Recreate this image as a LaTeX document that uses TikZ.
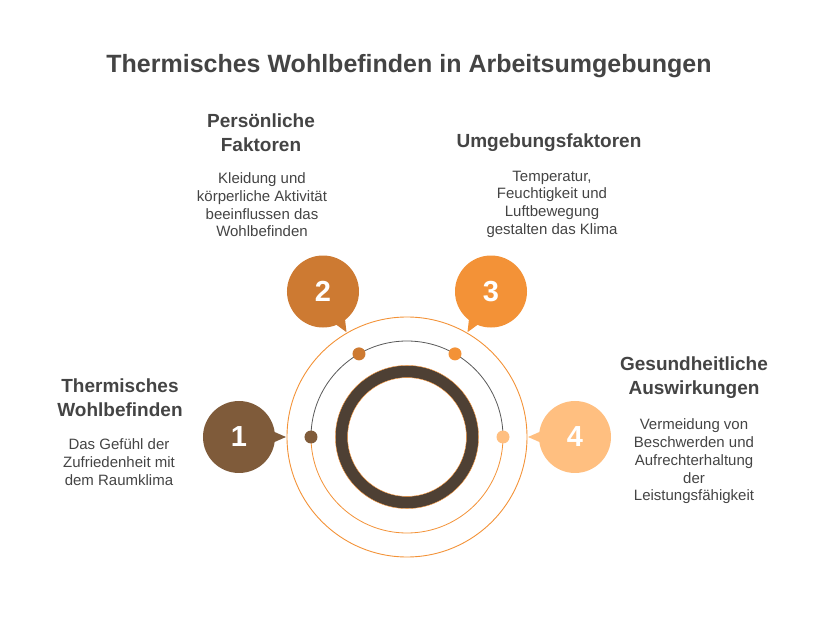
\documentclass[tikz,border=0pt]{standalone}
\usepackage{fontspec}
\setmainfont{Liberation Sans}
\usepackage{tikz}

\definecolor{txt}{HTML}{444444}
\definecolor{ringdark}{HTML}{4E4034}
\definecolor{cone}{HTML}{7F5B3A}
\definecolor{ctwo}{HTML}{CD7A32}
\definecolor{cthree}{HTML}{F39237}
\definecolor{cfour}{HTML}{FFBF80}
\definecolor{lineorange}{HTML}{F39237}

\begin{document}
\begin{tikzpicture}[x=1pt,y=1pt,
  heading/.style={font=\fontsize{19}{24}\selectfont\bfseries, text=txt, align=center, inner sep=0pt},
  desc/.style={font=\fontsize{15}{17.7}\selectfont, text=txt, align=center, inner sep=0pt},
  num/.style={font=\fontsize{29}{29}\selectfont\bfseries, text=white, inner sep=0pt},
  dot/.style={circle, inner sep=0pt, minimum size=13}]
\useasboundingbox (-407,-181) rectangle (409,437);

% rings
\draw[lineorange, line width=0.9] (0,0) circle (120);
\draw[black!65, line width=0.8] (0:96) arc (0:180:96);
\draw[lineorange, line width=0.8] (180:96) arc (180:360:96);
\draw[ringdark, line width=12] (0,0) circle (65.5);
\draw[lineorange, line width=0.4] (0,0) circle (71.6) (0,0) circle (59.4);

% bubbles and dots
\foreach \a/\c/\n in {180/cone/1,120/ctwo/2,60/cthree/3,0/cfour/4}{
  \fill[\c] (\a:168) circle (36);
  \fill[\c] (\a:121) -- ([shift={(\a+170:34)}]\a:168)
    -- ([shift={(\a+190:34)}]\a:168) -- cycle;
  \node[dot, fill=\c] (d\n) at (\a:96) {};
  \node[num] (b\n) at (\a:168) {\n};
}

\node[font=\fontsize{25}{29}\selectfont\bfseries, text=txt] (title) at (2,371)
  {Thermisches Wohlbefinden in Arbeitsumgebungen};

\node[heading] (h1) at (-287,39) {Thermisches\\Wohlbefinden};
\node[desc] (t1) at (-288,-25) {Das Gefühl der\\Zufriedenheit mit\\dem Raumklima};
\node[heading] (h2) at (-146,304) {Persönliche\\Faktoren};
\node[desc] (t2) at (-145,232) {Kleidung und\\körperliche Aktivität\\beeinflussen das\\Wohlbefinden};
\node[heading] (h3) at (142,294) {Umgebungsfaktoren};
\node[desc] (t3) at (145,233) {Temperatur,\\Feuchtigkeit und\\Luftbewegung\\gestalten das Klima};
\node[heading] (h4) at (287,59) {Gesundheitliche\\Auswirkungen};
\node[desc] (t4) at (287,-24.5) {Vermeidung von\\Beschwerden und\\Aufrechterhaltung\\der\\Leistungsfähigkeit};
\end{tikzpicture}
\end{document}
